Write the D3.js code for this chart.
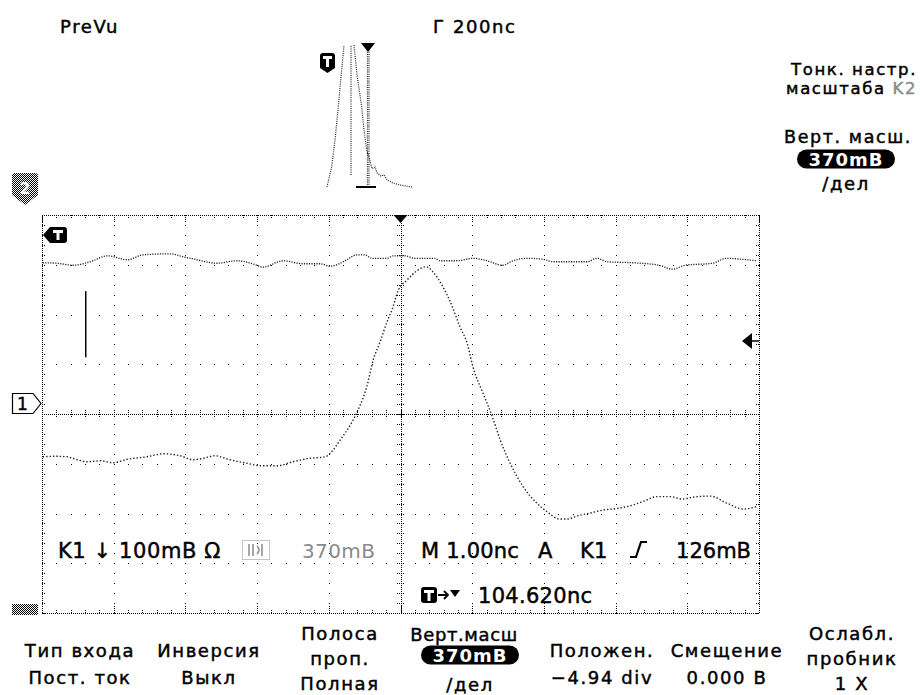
<!DOCTYPE html>
<html>
<head>
<meta charset="utf-8">
<script src="https://cdn.jsdelivr.net/npm/d3@7"></script>
<style>
  body { margin: 0; background: #fff; }
  svg { display: block; }
  text { font-family: "DejaVu Sans", sans-serif; fill: #000; }
</style>
</head>
<body>
<svg id="scope" width="920" height="695"></svg>
<script>
// time in ns relative to the trigger point (1.00 ns/div), level in divisions from screen centre
const timeTicks = d3.range(-5, 5.001, 1);
const levelTicks = d3.range(-4, 4.001, 1);

// channel 1 (pulse)
const ch1Time = [-4.99, -4.82, -4.65, -4.51, -4.37, -4.19, -4.01, -3.81, -3.54, -3.31, -3.07, -2.89, -2.75, -2.59, -2.38, -2.14, -1.96, -1.72, -1.50, -1.26, -1.05, -0.98, -0.84, -0.66, -0.57, -0.47, -0.38, -0.29, -0.17, -0.12, -0.03, 0.09, 0.23, 0.36, 0.45, 0.59, 0.69, 0.83, 0.93, 1.01, 1.15, 1.28, 1.39, 1.53, 1.71, 1.90, 2.04, 2.22, 2.34, 2.46, 2.62, 2.83, 3.02, 3.24, 3.38, 3.58, 3.76, 3.93, 4.08, 4.32, 4.55, 4.78, 4.97];
const ch1Level = [-0.86, -0.85, -0.86, -0.92, -0.96, -0.94, -0.98, -0.91, -0.86, -0.80, -0.84, -0.92, -0.89, -0.84, -0.92, -0.99, -1.04, -1.04, -0.96, -0.89, -0.86, -0.79, -0.52, -0.12, 0.15, 0.55, 1.09, 1.43, 1.92, 2.09, 2.49, 2.69, 2.88, 2.96, 2.86, 2.56, 2.27, 1.75, 1.42, 0.95, 0.42, -0.05, -0.52, -0.99, -1.46, -1.79, -1.96, -2.11, -2.11, -2.05, -2.00, -1.93, -1.90, -1.83, -1.76, -1.66, -1.66, -1.71, -1.67, -1.65, -1.79, -1.91, -1.86];

// channel 2 (flat trace near the top)
const ch2Time = [-4.99, -4.79, -4.57, -4.33, -4.08, -3.81, -3.59, -3.21, -3.03, -2.84, -2.56, -2.28, -2.00, -1.92, -1.64, -1.36, -1.12, -0.98, -0.84, -0.75, -0.61, -0.50, -0.40, -0.19, -0.10, 0.06, 0.20, 0.48, 0.55, 0.79, 1.01, 1.21, 1.42, 1.57, 1.76, 1.99, 2.13, 2.60, 2.74, 2.88, 3.24, 3.61, 3.79, 3.97, 4.35, 4.55, 4.76, 4.97];
const ch2Level = [3.04, 3.03, 2.99, 3.06, 3.18, 3.10, 3.20, 3.22, 3.16, 3.10, 3.03, 3.08, 2.99, 2.95, 3.08, 3.02, 3.02, 2.97, 3.03, 3.10, 3.20, 3.20, 3.13, 3.13, 3.18, 3.18, 3.13, 3.13, 3.08, 3.08, 3.13, 3.08, 2.99, 3.08, 3.13, 3.11, 3.06, 3.06, 3.13, 3.06, 3.04, 2.99, 2.91, 2.99, 3.03, 3.13, 3.11, 3.08];

// PreVu thumbnail (whole record, relative units)
const pvRiseX = [0.07, 0.117, 0.15, 0.183, 0.207, 0.233, 0.24];
const pvRiseY = [0, 0.143, 0.331, 0.565, 0.754, 0.942, 1.0];
const pvFallX = [0.34, 0.37, 0.417, 0.44, 0.467, 0.49, 0.52, 0.55, 0.57, 0.61, 0.64, 0.67, 0.73, 0.8, 0.86, 0.92];
const pvFallY = [1.0, 0.79, 0.565, 0.4, 0.26, 0.21, 0.13, 0.14, 0.1, 0.077, 0.085, 0.05, 0.028, 0.014, 0.007, 0.0];

// texts
const topLeftLabel = "PreVu";
const timebaseLabel = "Г 200nc";
const sideLabels = ["Тонк. настр.", "масштаба "];
const sideScaleTitle = "Верт. масш.";
const scaleValue = "370mB";
const perDiv = "/дел";
const menuLabels = [
  ["Тип входа", "Пост. ток"],
  ["Инверсия", "Выкл"],
  ["Полоса", "проп.", "Полная"],
  ["Верт.масш", "370mB", "/дел"],
  ["Положен.", "−4.94 div"],
  ["Смещение", "0.000 B"],
  ["Ослабл.", "пробник", "1 X"]
];
const menuCenters = [80, 209, 340, 466, 602, 727, 852];

const ScopeD3 = function(svg, options) {
  const defaults = {
    left: 42, right: 759, top: 215, bottom: 613,
    ink: "#000",
    traceInk: "#222",
    grey: "#8a8a8a"
  };
  const { left, right, top, bottom, ink, traceInk, grey } = Object.assign({}, defaults, options);

  const x = d3.scaleLinear().domain([-5, 5]).range([left, right]);
  const y = d3.scaleLinear().domain([-4, 4]).range([bottom, top]);

  // stipple pattern for the greyed icons
  svg.append("defs").append("pattern")
    .attr("id", "stip").attr("width", 2).attr("height", 2)
    .attr("patternUnits", "userSpaceOnUse")
    .call(p => {
      p.append("rect").attr("x", 0).attr("y", 0).attr("width", 1).attr("height", 1).attr("fill", ink);
      p.append("rect").attr("x", 1).attr("y", 1).attr("width", 1).attr("height", 1).attr("fill", ink);
    });

  //------------------GRATICULE------------------
  const grid = svg.append("g").attr("shape-rendering", "crispEdges");
  const minorT = d3.range(-5, 5.001, 0.2);
  const minorL = d3.range(-4, 4.001, 0.2);

  grid.append("rect")
    .attr("x", x(-5)).attr("y", y(4))
    .attr("width", x(5) - x(-5)).attr("height", y(-4) - y(4))
    .attr("fill", "none").attr("stroke", ink).attr("stroke-dasharray", "1,1");

  // interior major lines drawn as dots at minor positions
  const dots = [];
  timeTicks.filter(t => Math.abs(t) > 0.01 && Math.abs(t) < 4.99)
    .forEach(t => minorL.forEach(l => dots.push([t, l])));
  levelTicks.filter(l => Math.abs(l) > 0.01 && Math.abs(l) < 3.99)
    .forEach(l => minorT.forEach(t => dots.push([t, l])));
  grid.selectAll(".dot")
    .data(dots)
    .join("rect")
    .attr("class", "dot")
    .attr("x", d => Math.round(x(d[0])))
    .attr("y", d => Math.round(y(d[1])))
    .attr("width", 1.4).attr("height", 1.4)
    .attr("fill", ink);

  // edge ticks
  const edgeTicks = [];
  minorT.forEach(t => {
    const len = Math.abs(t - Math.round(t)) < 0.01 ? 7 : 3;
    edgeTicks.push({ x1: x(t), y1: y(4), x2: x(t), y2: y(4) + len });
    edgeTicks.push({ x1: x(t), y1: y(-4), x2: x(t), y2: y(-4) - len });
  });
  minorL.forEach(l => {
    edgeTicks.push({ x1: x(-5), y1: y(l), x2: x(-5) + 3, y2: y(l) });
    edgeTicks.push({ x1: x(5), y1: y(l), x2: x(5) - 3, y2: y(l) });
  });
  grid.selectAll(".edge")
    .data(edgeTicks)
    .join("line")
    .attr("class", "edge")
    .attr("x1", d => Math.round(d.x1)).attr("y1", d => Math.round(d.y1))
    .attr("x2", d => Math.round(d.x2)).attr("y2", d => Math.round(d.y2))
    .attr("stroke", ink).attr("stroke-dasharray", "1,1");

  // centre cross
  grid.append("line")
    .attr("x1", Math.round(x(0))).attr("x2", Math.round(x(0)))
    .attr("y1", y(4)).attr("y2", y(-4))
    .attr("stroke", ink).attr("stroke-dasharray", "1,1");
  grid.append("line")
    .attr("x1", x(-5)).attr("x2", x(5))
    .attr("y1", Math.round(y(0))).attr("y2", Math.round(y(0)))
    .attr("stroke", ink).attr("stroke-dasharray", "1,1");
  grid.selectAll(".cv")
    .data(minorL)
    .join("line")
    .attr("class", "cv")
    .attr("x1", Math.round(x(0)) - 4).attr("x2", Math.round(x(0)) + 4)
    .attr("y1", d => Math.round(y(d))).attr("y2", d => Math.round(y(d)))
    .attr("stroke", ink).attr("stroke-dasharray", "1,1");
  grid.selectAll(".ch")
    .data(minorT)
    .join("line")
    .attr("class", "ch")
    .attr("x1", d => Math.round(x(d))).attr("x2", d => Math.round(x(d)))
    .attr("y1", Math.round(y(0)) - 4).attr("y2", Math.round(y(0)) + 4)
    .attr("stroke", ink).attr("stroke-dasharray", "1,1");

  //------------------TRACES------------------
  const line = d3.line()
    .x(d => x(d[0]))
    .y(d => y(d[1]))
    .curve(d3.curveMonotoneX);

  svg.append("path")
    .datum(d3.zip(ch2Time, ch2Level))
    .attr("d", line)
    .attr("fill", "none").attr("stroke", traceInk)
    .attr("stroke-width", 1.3).attr("stroke-dasharray", "1.2,1.3");

  svg.append("path")
    .datum(d3.zip(ch1Time, ch1Level))
    .attr("d", line)
    .attr("fill", "none").attr("stroke", traceInk)
    .attr("stroke-width", 1.4).attr("stroke-dasharray", "1.4,2");

  // cursor bar on the left
  const barT = -4.39, barTop = 2.47, barBottom = 1.14;
  svg.append("line")
    .attr("x1", x(barT)).attr("x2", x(barT))
    .attr("y1", y(barTop)).attr("y2", y(barBottom))
    .attr("stroke", ink).attr("stroke-width", 1.5);

  //------------------MARKERS------------------
  // trigger position triangle at top of the graticule
  svg.append("path")
    .attr("transform", `translate(${x(0)},${y(4)})`)
    .attr("d", "M-7,0 H7 L0,8 Z").attr("fill", ink);

  // trigger "T" flag pointing left
  const tFlag = svg.append("g").attr("transform", `translate(${x(-5) + 1},227)`);
  tFlag.append("path").attr("d", "M0,8 L7,0 H21 Q24,0 24,3 V13 Q24,16 21,16 H7 Z").attr("fill", ink);
  tFlag.append("rect").attr("x", 10).attr("y", 3).attr("width", 10).attr("height", 3).attr("fill", "#fff");
  tFlag.append("rect").attr("x", 13.5).attr("y", 3).attr("width", 3).attr("height", 10).attr("fill", "#fff");

  // channel 1 ground marker
  const ch1Mark = svg.append("g").attr("transform", `translate(12,${y(0) - 21})`);
  ch1Mark.append("path").attr("d", "M0.5,0.5 H21 L29,10.5 L21,20.5 H0.5 Z")
    .attr("fill", "#fff").attr("stroke", ink).attr("stroke-width", 1.2);
  ch1Mark.append("text").attr("x", 10.5).attr("y", 17).attr("text-anchor", "middle")
    .attr("font-size", 17).attr("stroke", ink).attr("stroke-width", 0.4).text("1");

  // channel 2 marker (stippled)
  const ch2Mark = svg.append("g").attr("transform", "translate(12,173)");
  ch2Mark.append("path").attr("d", "M0,3 Q0,0 3,0 H23 Q26,0 26,3 V22 L13,32 L0,22 Z").attr("fill", "url(#stip)");
  ch2Mark.append("text").attr("x", 13).attr("y", 21).attr("text-anchor", "middle")
    .attr("font-size", 15).attr("font-weight", "bold").attr("fill", "#fff").style("fill", "#fff").text("2");

  // bottom-left stippled icon
  svg.append("path").attr("transform", `translate(12,${y(-4) - 9})`)
    .attr("d", "M0,0 H26 V11 H0 Z").attr("fill", "url(#stip)");

  // trigger level arrow on the right edge
  const lvl = svg.append("g").attr("transform", `translate(${x(5) - 17},341)`);
  lvl.append("path").attr("d", "M0,0 L10,-8 V8 Z").attr("fill", ink);
  lvl.append("line").attr("x1", 9).attr("x2", 17).attr("y1", 0).attr("y2", 0).attr("stroke", ink).attr("stroke-width", 1.5);

  //------------------PREVU THUMBNAIL------------------
  const px = d3.scaleLinear().domain([0, 1]).range([320, 420]);
  const py = d3.scaleLinear().domain([0, 1]).range([187, 45]);
  const pline = d3.line().x(d => px(d[0])).y(d => py(d[1]));
  const pv = svg.append("g").attr("fill", "none").attr("stroke", traceInk)
    .attr("stroke-width", 1.2).attr("stroke-dasharray", "1,1.2");
  pv.append("path").datum(d3.zip(pvRiseX, pvRiseY)).attr("d", pline);
  pv.append("path").datum(d3.zip(pvFallX, pvFallY)).attr("d", pline);
  pv.append("path").datum([[0.31, 0.085], [0.31, 1]]).attr("d", pline);
  pv.append("path").datum([[0.475, 0], [0.475, 1]]).attr("d", pline);
  pv.append("path").datum([[0.49, 0], [0.49, 1]]).attr("d", pline);
  svg.append("line")
    .attr("x1", px(0.36)).attr("x2", px(0.56)).attr("y1", py(0)).attr("y2", py(0))
    .attr("stroke", ink).attr("stroke-width", 2);
  svg.append("path").attr("transform", `translate(${px(0.48)},43)`)
    .attr("d", "M-7,0 H7 L0,9 Z").attr("fill", ink);
  const pvT = svg.append("g").attr("transform", "translate(320,53)");
  pvT.append("path").attr("d", "M0,3 Q0,0 3,0 H12 Q15,0 15,3 V15 L7.5,20 L0,15 Z").attr("fill", ink);
  pvT.append("rect").attr("x", 3).attr("y", 3).attr("width", 9).attr("height", 3).attr("fill", "#fff");
  pvT.append("rect").attr("x", 6).attr("y", 3).attr("width", 3).attr("height", 11).attr("fill", "#fff");

  //------------------TEXTS------------------
  const label = (xx, yy, str, size, anchor) => svg.append("text")
    .attr("x", xx).attr("y", yy)
    .attr("font-size", size)
    .attr("letter-spacing", 1.6)
    .attr("text-anchor", anchor || "start")
    .attr("stroke", ink).attr("stroke-width", 0.45)
    .text(str);

  label(60, 33, topLeftLabel, 18);
  label(433, 33, timebaseLabel, 18);

  label(917, 75, sideLabels[0], 16.5, "end");
  label(917, 94, sideLabels[1], 16.5, "end")
    .append("tspan").attr("fill", grey).attr("stroke", grey).style("fill", grey).text("K2");
  label(848, 143, sideScaleTitle, 17.5, "middle");

  const pill = (cx, cy, str) => {
    svg.append("rect")
      .attr("x", cx - 49).attr("y", cy - 9.5)
      .attr("width", 98).attr("height", 19).attr("rx", 9.5)
      .attr("fill", ink);
    svg.append("text")
      .attr("x", cx).attr("y", cy + 6.5)
      .attr("text-anchor", "middle").attr("font-size", 18)
      .attr("letter-spacing", 1).attr("font-weight", "bold")
      .attr("fill", "#fff").style("fill", "#fff")
      .text(str);
  };
  pill(846, 159, scaleValue);
  label(846, 190, perDiv, 18, "middle");

  // readouts inside the graticule
  label(58, 558, "K1 ↓ 100mB Ω", 21).attr("letter-spacing", 0.6);
  const logo = svg.append("g").attr("transform", "translate(242,540)");
  logo.append("rect").attr("x", 0.5).attr("y", 0.5).attr("width", 27).attr("height", 19)
    .attr("fill", "none").attr("stroke", grey).attr("stroke-dasharray", "1,1");
  logo.append("path").attr("d", "M7,4 V16 M11,4 V16 M15,6 Q19,10 15,14 M20,4 V16")
    .attr("fill", "none").attr("stroke", grey).attr("stroke-width", 1.5);
  label(302, 558, "370mB", 20).attr("fill", grey).style("fill", grey)
    .attr("stroke", "none").attr("letter-spacing", 0.4);
  label(421, 558, "M 1.00nc", 21).attr("letter-spacing", 0.2);
  label(538, 558, "A", 21);
  label(580, 558, "K1", 21).attr("letter-spacing", 0.3);
  svg.append("path").attr("d", "M630,557 H636 L641,542 H647")
    .attr("fill", "none").attr("stroke", ink).attr("stroke-width", 2.2);
  label(751, 558, "126mB", 21, "end").attr("letter-spacing", 0);

  const trg = svg.append("g").attr("transform", "translate(421,587)");
  trg.append("path").attr("d", "M0,3 Q0,0 3,0 H13 Q16,0 16,3 V13 Q16,16 13,16 H3 Q0,16 0,13 Z").attr("fill", ink);
  trg.append("rect").attr("x", 3).attr("y", 3).attr("width", 10).attr("height", 3).attr("fill", "#fff");
  trg.append("rect").attr("x", 6.5).attr("y", 3).attr("width", 3).attr("height", 11).attr("fill", "#fff");
  trg.append("path").attr("d", "M17,8 H27 M23,4 L27,8 L23,12").attr("fill", "none").attr("stroke", ink).attr("stroke-width", 1.8);
  trg.append("path").attr("d", "M29,3 H39 L34,10 Z").attr("fill", ink);
  label(478, 603, "104.620nc", 21).attr("letter-spacing", 0.3);

  // soft-key menu along the bottom
  menuLabels.forEach((lines, i) => {
    const cx = menuCenters[i];
    if (lines.length === 2) {
      label(cx, 657, lines[0], 18, "middle");
      label(cx, 684, lines[1], 18, "middle");
    } else if (i === 3) {
      label(cx - 2, 641, lines[0], 18, "middle").attr("letter-spacing", 0.6);
      pill(cx + 4, 655, lines[1]);
      label(cx + 4, 691, lines[2], 18, "middle");
    } else {
      label(cx, 640, lines[0], 18, "middle");
      label(cx, 665, lines[1], 18, "middle");
      label(cx, 690, lines[2], 18, "middle");
    }
  });
};

ScopeD3(d3.select("#scope"), {});
</script>
</body>
</html>
